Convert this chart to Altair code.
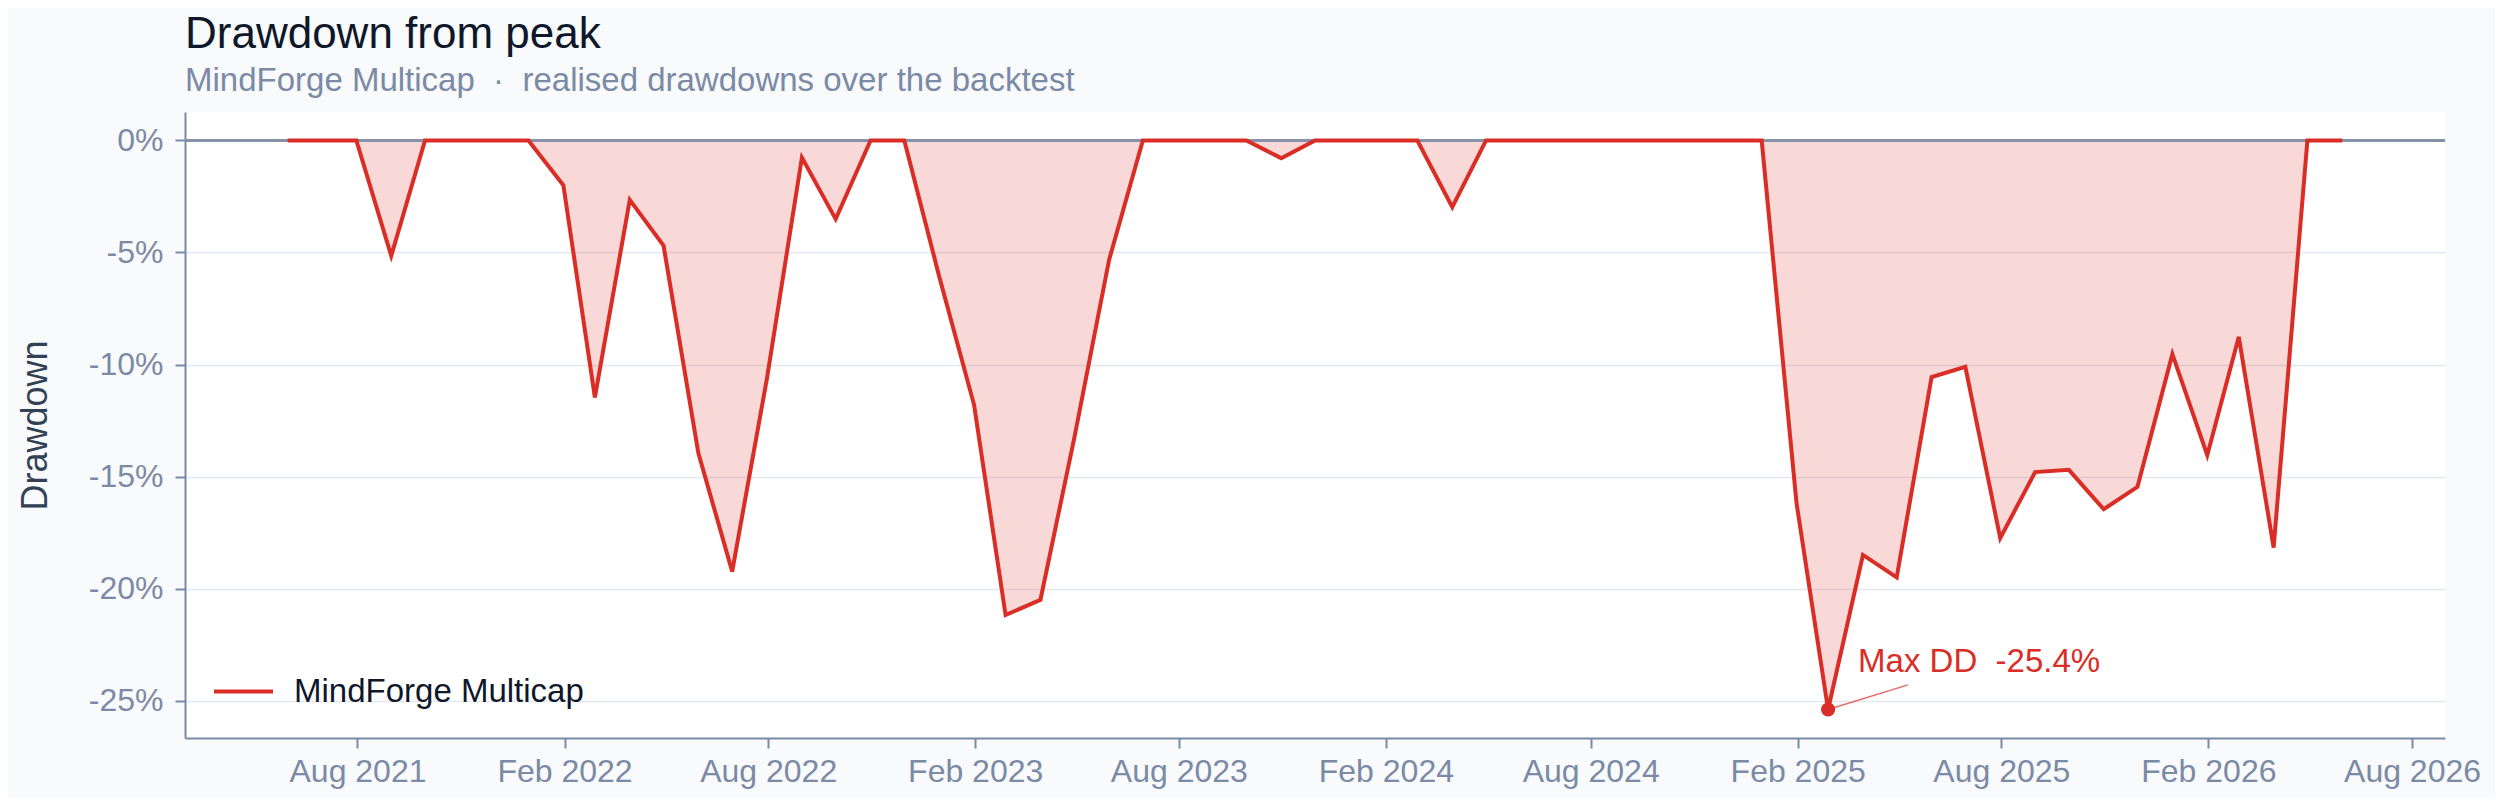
import altair as alt
import pandas as pd

# ---- data ----
series_name = "MindForge Multicap"
month_ends = pd.date_range("2021-05-31", periods=61, freq="ME")
drawdown_pct = [
    0, 0, 0, -5.15, 0, 0, 0, 0,
    -2.0, -11.47, -2.65, -4.69, -13.96, -19.24, -10.6, -0.76, -3.51, 0, 0, -6.07,
    -11.8, -21.18, -20.5, -13.3, -5.33, 0, 0, 0, 0, -0.79, 0, 0,
    0, 0, -2.98, 0, 0, 0, 0, 0, 0, 0, 0, 0,
    -16.2, -25.4, -18.5, -19.5, -10.56, -10.1, -17.75, -14.8, -14.7, -16.46, -15.46, -9.54,
    -14.05, -8.77, -18.17, 0, 0,
]
tick_dates = ["2021-08-01", "2022-02-01", "2022-08-01", "2023-02-01", "2023-08-01",
              "2024-02-01", "2024-08-01", "2025-02-01", "2025-08-01", "2026-02-01",
              "2026-08-01"]
y_ticks = [0, -0.05, -0.10, -0.15, -0.20, -0.25]

df = pd.DataFrame({
    "date": month_ends.strftime("%Y-%m-%d"),
    "dd": [v / 100 for v in drawdown_pct],
    "series": series_name,
})

# max drawdown point
imin = int(pd.Series(drawdown_pct).idxmin())
min_date = month_ends[imin]
min_val = drawdown_pct[imin] / 100
ann = pd.DataFrame({
    "date": [min_date.strftime("%Y-%m-%d")],
    "dd": [min_val],
    "date2": [(min_date + pd.Timedelta(days=71)).strftime("%Y-%m-%d")],
    "dd2": [min_val + 0.011],
    "label": [f"Max DD\u00a0\u00a0-{abs(drawdown_pct[imin]):.1f}%"],
})

# domains with 5% padding
span = month_ends[-1] - month_ends[0]
pad = span * 0.05
x_dom = [int((month_ends[0] - pad).timestamp() * 1000), int((month_ends[-1] + pad).timestamp() * 1000)]
rng = -min(drawdown_pct) / 100
y_dom = [min(drawdown_pct) / 100 - rng * 0.05, rng * 0.05]
tick_ms = [int(pd.Timestamp(t).timestamp() * 1000) for t in tick_dates]

RED = "#d92d26"
SLATE = "#7b8aa5"
FONT = "Liberation Sans"

x = alt.X("date:T", scale=alt.Scale(type="utc", domain=x_dom, nice=False),
          axis=alt.Axis(values=tick_ms, labelExpr="utcFormat(datum.value, '%b %Y')",
                        title=None, grid=False, tickSize=10, labelPadding=8,
                        labelFontSize=32, labelColor=SLATE, domainColor=SLATE,
                        tickColor=SLATE, domainWidth=2, tickWidth=2, labelFont=FONT))
y = alt.Y("dd:Q", scale=alt.Scale(domain=y_dom, nice=False, zero=False),
          axis=alt.Axis(values=y_ticks, title="Drawdown",
                        labelExpr="(datum.value < 0 ? '-' : '') + format(abs(datum.value), '.0%')",
                        grid=True, gridColor="#e3e8f0", gridWidth=1.5,
                        tickSize=10, labelPadding=12, labelFontSize=32, labelColor=SLATE,
                        domainColor=SLATE, tickColor=SLATE, domainWidth=2, tickWidth=2,
                        titleFontSize=36, titleColor="#334155", titleFontWeight="normal",
                        titlePadding=34, labelFont=FONT, titleFont=FONT))

base = alt.Chart(df)
area = base.mark_area(color=RED, opacity=0.18).encode(x=x, y=y, y2=alt.datum(0))
zero = alt.Chart(df).mark_rule(color="#8592a8", strokeWidth=2).encode(y=alt.datum(0))
line = base.mark_line(strokeWidth=4, strokeJoin="miter").encode(
    x=x, y=y,
    color=alt.Color("series:N", scale=alt.Scale(range=[RED]),
                    legend=alt.Legend(title=None, orient="none", legendX=27, legendY=548,
                                      symbolType="stroke", symbolSize=3481,
                                      symbolStrokeWidth=4, labelFontSize=33,
                                      labelColor="#0f172a", labelFont=FONT,
                                      labelOffset=19, labelLimit=0, padding=0)))

abase = alt.Chart(ann)
leader = abase.mark_rule(color=RED, opacity=0.7, strokeWidth=1.5).encode(
    x="date:T", y="dd:Q", x2="date2:T", y2="dd2:Q")
pt = abase.mark_point(filled=True, color=RED, size=200, opacity=1).encode(x="date:T", y="dd:Q")
txt = abase.mark_text(color=RED, fontSize=33, font=FONT, align="left", baseline="alphabetic",
                      dx=30, dy=-38).encode(x="date:T", y="dd:Q", text="label:N")

chart = alt.layer(area, zero, line, leader, pt, txt).properties(
    width=2260, height=626,
    autosize=alt.AutoSizeParams(type="none"),
    padding={"left": 177, "top": 104, "right": 50, "bottom": 60},
    background="#f8fafc",
    title=alt.TitleParams("Drawdown from peak",
                          subtitle=f"{series_name}\u00a0\u00a0·\u00a0\u00a0realised drawdowns over the backtest",
                          anchor="start", frame="group", fontSize=44, font=FONT,
                          fontWeight="normal", color="#0f172a",
                          subtitleFontSize=33, subtitleFont=FONT, subtitleColor=SLATE,
                          subtitlePadding=8, offset=14),
).configure_view(fill="white", stroke=None)

chart.save("out.html", embed_options={"renderer": "svg", "actions": False})
